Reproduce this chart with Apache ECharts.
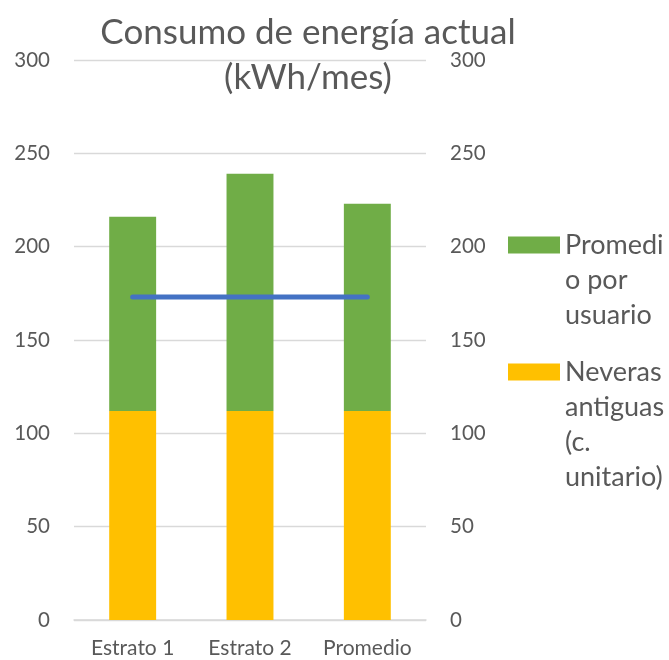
<!DOCTYPE html>
<html><head><meta charset="utf-8">
<script src="https://cdn.jsdelivr.net/npm/echarts@6/dist/echarts.min.js"></script>
<style>html,body{margin:0;padding:0;background:#fff}#c{width:669px;height:660px}</style>
</head><body><div id="c"></div>
<script>
var categories = ['Estrato 1', 'Estrato 2', 'Promedio'];
var neveras = [112, 112, 112];
var promedioUsuario = [104, 127, 111];
var lineaRef = [173, 173, 173];
var yTicks = [0, 50, 100, 150, 200, 250, 300];

var FONT = 'Lato';
var GRAY = '#595959';
var chart = echarts.init(document.getElementById('c'));
function yAx(pos){
  return {type:'value', position:pos, min:yTicks[0], max:yTicks[yTicks.length-1], interval:50,
    axisLine:{show:false}, axisTick:{show:false},
    splitLine:{show:pos==='left', lineStyle:{color:'#D9D9D9', width:1.3}},
    axisLabel:{color:GRAY, fontSize:20.5, fontFamily:FONT, margin:24}};
}
chart.setOption({
  animation:false,
  title:{text:'Consumo de energía actual\n(kWh/mes)', left:303, top:5, textAlign:'center',
    textStyle:{fontSize:35, fontWeight:'normal', color:GRAY, fontFamily:FONT, lineHeight:45}},
  legend:[
    {data:['Promedio por usuario'], orient:'vertical', left:508, top:157.5, padding:0,
     icon:'rect', itemWidth:52, itemHeight:17, itemGap:5,
     formatter:function(){return '\n\nPromedi\no por\nusuario';},
     textStyle:{fontSize:27, color:GRAY, fontFamily:FONT, lineHeight:35}},
    {data:['Neveras antiguas (c. unitario)'], orient:'vertical', left:508, top:249.5, padding:0,
     icon:'rect', itemWidth:52, itemHeight:17, itemGap:5,
     formatter:function(){return '\n\n\nNeveras\nantiguas\n(c.\nunitario)';},
     textStyle:{fontSize:27, color:GRAY, fontFamily:FONT, lineHeight:35}}
  ],
  grid:{left:74, right:243, top:60, bottom:40},
  xAxis:{type:'category', data:categories,
    axisLine:{lineStyle:{color:'#D9D9D9', width:1.5}}, axisTick:{show:false},
    axisLabel:{color:GRAY, fontSize:21, fontFamily:FONT, margin:18}},
  yAxis:[yAx('left'), yAx('right')],
  series:[
    {name:'Neveras antiguas (c. unitario)', type:'bar', stack:'a', data:neveras, barWidth:'40%',
     itemStyle:{color:'#FFC000'}},
    {name:'Promedio por usuario', type:'bar', stack:'a', data:promedioUsuario, barWidth:'40%',
     itemStyle:{color:'#70AD47'}},
    {name:'Referencia', type:'line', data:lineaRef, symbol:'none', z:5,
     lineStyle:{color:'#4472C4', width:5, cap:'round'}}
  ]
});
</script></body></html>
